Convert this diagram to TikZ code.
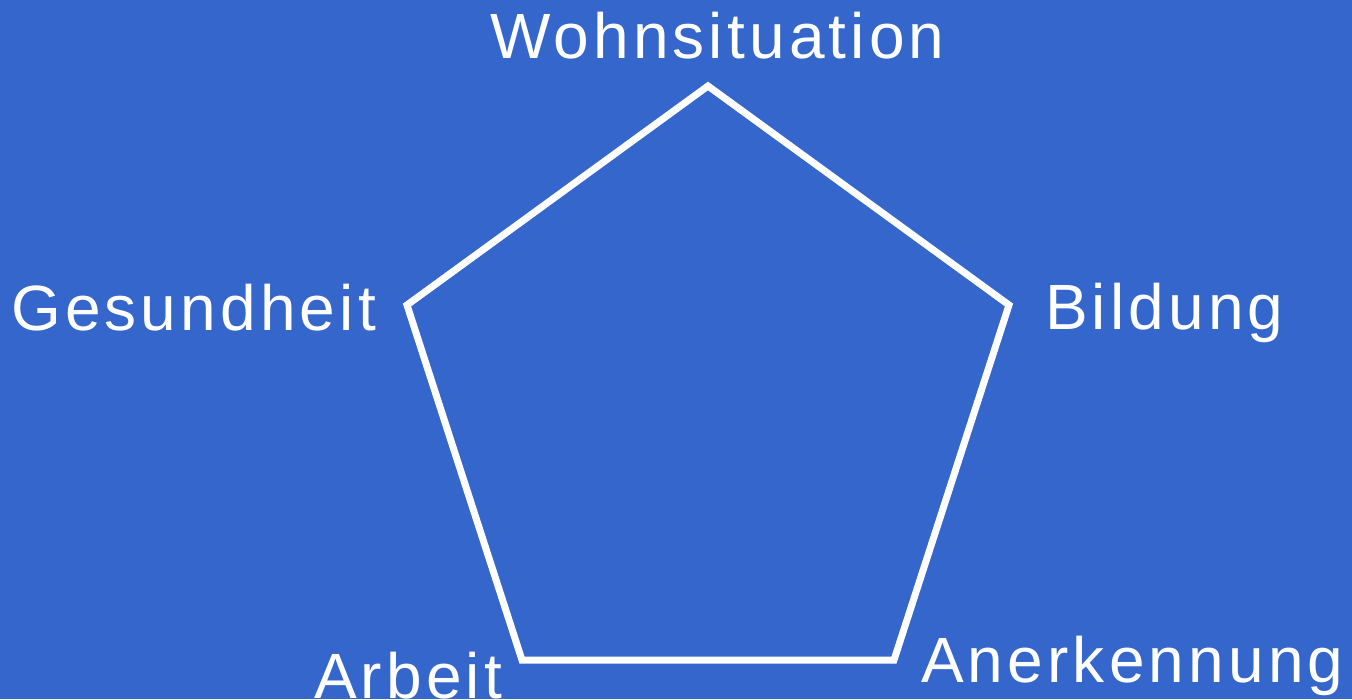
\documentclass[tikz,border=0pt]{standalone}
\usepackage{fontspec}
\setmainfont{Liberation Sans}[LetterSpace=6.5]
\usetikzlibrary{positioning}
\definecolor{bgblue}{RGB}{52,102,204}

\begin{document}
\begin{tikzpicture}[x=1pt,y=-1pt,font=\fontsize{64}{70}\selectfont,
  lbl/.style={text=white,inner sep=0pt,anchor=base west},
  side/.style={draw=white,line width=7pt}]
  \fill[bgblue] (0,0) rectangle (1352,699);
  \useasboundingbox (0,0) rectangle (1352,699);
  % corners of the pentagon
  \coordinate (ctop) at (708,86);
  \coordinate (cright) at (1009,305);
  \coordinate (cbright) at (894,660);
  \coordinate (cbleft) at (522,660);
  \coordinate (cleft) at (407,305);
  \draw[side] (ctop) -- (cright) -- (cbright) -- (cbleft) -- (cleft) -- cycle;
  % labels
  \node[lbl] (wohn) at (490,58) {Wohnsituation};
  \node[lbl] (gesund) at (11,330) {Gesundheit};
  \node[lbl] (bildung) at (1045,329) {Bildung};
  \node[lbl] (arbeit) at (314,698) {Arbeit};
  \node[lbl] (anerk) at (921,682) {Anerkennung};
\end{tikzpicture}
\end{document}
